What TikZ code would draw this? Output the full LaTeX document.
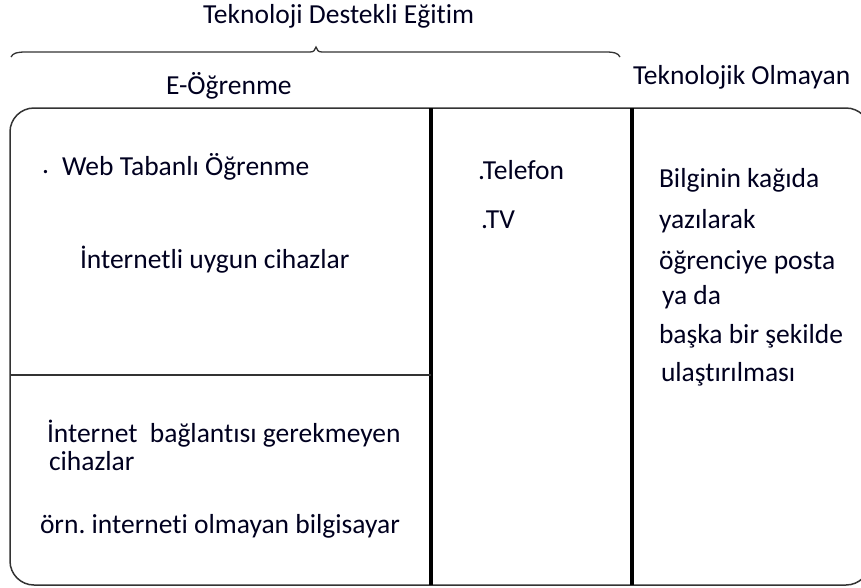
\documentclass[tikz,border=0pt]{standalone}
\usepackage{fontspec}
\setmainfont{Carlito}[Ligatures=NoCommon]
\frenchspacing
\begin{document}
\begin{tikzpicture}[x=1pt,y=-1pt,
  txt/.style={anchor=base west,inner sep=0pt,outer sep=0pt,text=black!88!blue,font=\fontsize{27.5}{33}\selectfont\frenchspacing},
  thinline/.style={draw=black!80,line width=1.5pt},
  thickline/.style={draw=black,line width=4pt}]
\useasboundingbox (0,0) rectangle (861,587);
\begin{scope}
\clip (0,0) rectangle (861,587);
% main rounded box
\draw[thinline,rounded corners=24pt] (10,108) rectangle (870,585);
\end{scope}
% dividers
\draw[thickline] (431,108) -- (431,585);
\draw[thickline] (632,108) -- (632,585);
\draw[thinline] (10,375) -- (431,375);
% brace
\draw[thinline,line width=1.3pt] (11,57) .. controls (13,53) and (17,52) .. (26,52)
  -- (310,52) .. controls (314,52) and (315,50) .. (316,47)
  .. controls (317,50) and (318,52) .. (322,52)
  -- (606,52) .. controls (614,52) and (618,53) .. (620,57);
% labels
\node[txt] (title) at (203,23) {Teknoloji Destekli Eğitim};
\node[txt] (eog) at (166,94) {E-Öğrenme};
\node[txt] (tekol) at (633,84) {Teknolojik Olmayan};
\node[txt] (b1) at (42,173) {.};
\node[txt] (web) at (62,175) {Web Tabanlı Öğrenme};
\node[txt] (inet) at (80,268) {İnternetli uygun cihazlar};
\node[txt] (inb) at (47,442) {İnternet\ \ bağlantısı gerekmeyen};
\node[txt] (cih) at (49,470) {cihazlar};
\node[txt] (orn) at (40,533) {örn. interneti olmayan bilgisayar};
\node[txt] (tel) at (478,179) {.Telefon};
\node[txt] (tv) at (481,228) {.TV};
\node[txt] (r1) at (659,187) {Bilginin kağıda};
\node[txt] (r2) at (659,228) {yazılarak};
\node[txt] (r3) at (659,269) {öğrenciye posta};
\node[txt] (r4) at (662,304) {ya da};
\node[txt] (r5) at (659,343) {başka bir şekilde};
\node[txt] (r6) at (661,381) {ulaştırılması};
\end{tikzpicture}
\end{document}
